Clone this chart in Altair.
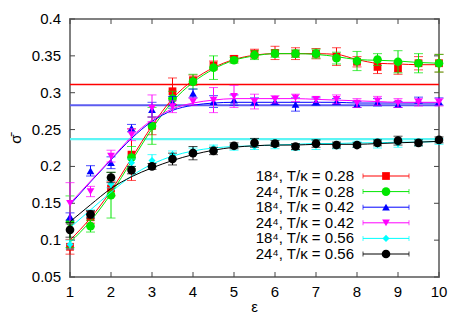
import altair as alt
import pandas as pd

# ---------------- data ----------------
eps = [1, 1.5, 2, 2.5, 3, 3.5, 4, 4.5, 5, 5.5, 6, 6.5, 7, 7.5, 8, 8.5, 9, 9.5, 10]

series = ["18⁴, T/κ = 0.28", "24⁴, T/κ = 0.28", "18⁴, T/κ = 0.42",
          "24⁴, T/κ = 0.42", "18⁴, T/κ = 0.56", "24⁴, T/κ = 0.56"]

sig_18_028 = [0.091, 0.131, 0.170, 0.216, 0.255, 0.302, 0.317, 0.337, 0.346, 0.353, 0.354, 0.353, 0.353, 0.349, 0.342, 0.335, 0.333, 0.340, 0.340]
err_18_028 = [0.010, 0.008, 0.010, 0.035, 0.012, 0.018, 0.007, 0.006, 0.004, 0.006, 0.009, 0.008, 0.007, 0.012, 0.007, 0.009, 0.008, 0.009, 0.012]
fit_18_028 = [0.100, 0.130, 0.167, 0.211, 0.255, 0.292, 0.317, 0.334, 0.345, 0.351, 0.353, 0.353, 0.353, 0.352, 0.345, 0.340, 0.339, 0.338, 0.338]

sig_24_028 = [0.125, 0.119, 0.161, 0.212, 0.255, 0.292, 0.315, 0.334, 0.344, 0.351, 0.353, 0.353, 0.353, 0.347, 0.343, 0.345, 0.342, 0.340, 0.340]
err_24_028 = [0.035, 0.008, 0.031, 0.015, 0.025, 0.010, 0.010, 0.016, 0.004, 0.006, 0.005, 0.005, 0.006, 0.008, 0.013, 0.008, 0.015, 0.013, 0.012]
fit_24_028 = [0.097, 0.126, 0.163, 0.207, 0.251, 0.288, 0.314, 0.332, 0.344, 0.350, 0.353, 0.353, 0.352, 0.349, 0.345, 0.344, 0.343, 0.341, 0.340]

sig_18_042 = [0.132, 0.194, 0.205, 0.252, 0.277, 0.287, 0.299, 0.288, 0.290, 0.288, 0.288, 0.284, 0.288, 0.288, 0.284, 0.287, 0.284, 0.290, 0.288]
err_18_042 = [0.005, 0.007, 0.008, 0.005, 0.010, 0.008, 0.006, 0.008, 0.007, 0.005, 0.004, 0.009, 0.005, 0.004, 0.004, 0.005, 0.004, 0.004, 0.005]
fit_18_042 = [0.148, 0.179, 0.209, 0.238, 0.261, 0.276, 0.283, 0.286, 0.287, 0.287, 0.287, 0.287, 0.287, 0.287, 0.286, 0.286, 0.286, 0.286, 0.286]

sig_24_042 = [0.150, 0.166, 0.214, 0.243, 0.279, 0.281, 0.288, 0.290, 0.295, 0.288, 0.291, 0.293, 0.291, 0.291, 0.286, 0.289, 0.286, 0.287, 0.287]
err_24_042 = [0.028, 0.007, 0.008, 0.008, 0.018, 0.008, 0.005, 0.017, 0.015, 0.010, 0.005, 0.005, 0.004, 0.006, 0.006, 0.006, 0.006, 0.005, 0.005]
fit_24_042 = [0.150, 0.180, 0.210, 0.240, 0.263, 0.278, 0.286, 0.290, 0.292, 0.292, 0.292, 0.292, 0.291, 0.290, 0.289, 0.288, 0.287, 0.287, 0.287]

sig_18_056 = [0.094, 0.136, 0.176, 0.205, 0.208, 0.216, 0.221, 0.225, 0.226, 0.227, 0.228, 0.226, 0.229, 0.228, 0.230, 0.230, 0.231, 0.232, 0.234]
err_18_056 = [0.006, 0.005, 0.005, 0.005, 0.008, 0.005, 0.004, 0.004, 0.004, 0.004, 0.004, 0.004, 0.006, 0.004, 0.004, 0.005, 0.005, 0.004, 0.004]
fit_18_056 = [0.117, 0.141, 0.165, 0.187, 0.203, 0.214, 0.221, 0.225, 0.227, 0.228, 0.229, 0.230, 0.231, 0.231, 0.232, 0.232, 0.233, 0.233, 0.234]

sig_24_056 = [0.114, 0.135, 0.185, 0.195, 0.200, 0.210, 0.218, 0.221, 0.228, 0.232, 0.231, 0.227, 0.231, 0.229, 0.229, 0.232, 0.235, 0.232, 0.236]
err_24_056 = [0.010, 0.005, 0.007, 0.005, 0.004, 0.008, 0.009, 0.005, 0.004, 0.006, 0.004, 0.004, 0.005, 0.004, 0.003, 0.004, 0.006, 0.004, 0.004]
fit_24_056 = [0.125, 0.148, 0.170, 0.186, 0.198, 0.208, 0.216, 0.222, 0.226, 0.228, 0.229, 0.229, 0.230, 0.230, 0.230, 0.231, 0.232, 0.233, 0.234]

sigmas = [sig_18_028, sig_24_028, sig_18_042, sig_24_042, sig_18_056, sig_24_056]
errors = [err_18_028, err_24_028, err_18_042, err_24_042, err_18_056, err_24_056]
fits = [fit_18_028, fit_24_028, fit_18_042, fit_24_042, fit_18_056, fit_24_056]

# horizontal reference levels (red, blue, cyan)
hline_values = [0.311, 0.283, 0.237]

x_ticks = [1, 2, 3, 4, 5, 6, 7, 8, 9, 10]
y_ticks = [0.05, 0.1, 0.15, 0.2, 0.25, 0.3, 0.35, 0.4]
x_title = "ε"
y_title = "σ̄"

# ---------------- styles ----------------
colors = ["#ff0000", "#00e600", "#0000ff", "#ff00ff", "#00ffff", "#000000"]
shapes = ["square", "circle", "triangle-up", "triangle-down", "diamond", "circle"]
sizes = [60, 75, 60, 60, 50, 75]
hline_colors = ["#ff0000", "#5c5cf0", "#5cf5f5"]
hline_widths = [1.5, 2.2, 2.2]
FONT = "Liberation Sans"
FS = 15
W, H = 369, 258

rows = []
for s, sg, er, ft in zip(series, sigmas, errors, fits):
    for e, v, d, f in zip(eps, sg, er, ft):
        rows.append({"series": s, "eps": e, "sigma": v, "err": d, "fit": f})
df = pd.DataFrame(rows)

xs = alt.Scale(domain=[1, 10], nice=False, zero=False)
ys = alt.Scale(domain=[0.05, 0.4], nice=False, zero=False)

layers = []

# inward ticks on all four sides
tick_col = "#444444"
ydf = pd.DataFrame({"v": y_ticks})
xdf = pd.DataFrame({"v": x_ticks})
layers.append(alt.Chart(ydf).mark_rule(color=tick_col, strokeWidth=1)
              .encode(y=alt.Y("v:Q", scale=ys, axis=None), x=alt.value(0), x2=alt.value(5)))
layers.append(alt.Chart(xdf).mark_rule(color=tick_col, strokeWidth=1)
              .encode(x=alt.X("v:Q", scale=xs, axis=None), y=alt.value(H - 5), y2=alt.value(H)))
layers.append(alt.Chart(ydf).mark_rule(color=tick_col, strokeWidth=1)
              .encode(y=alt.Y("v:Q", scale=ys, axis=None), x=alt.value(W - 5), x2=alt.value(W)))
layers.append(alt.Chart(xdf).mark_rule(color=tick_col, strokeWidth=1)
              .encode(x=alt.X("v:Q", scale=xs, axis=None), y=alt.value(0), y2=alt.value(5)))

# tick labels and axis titles (as text marks placed by the scales)
layers.append(alt.Chart(ydf).mark_text(align="right", baseline="middle", fontSize=FS, color="#000000")
              .encode(y=alt.Y("v:Q", scale=ys, axis=None), x=alt.value(-9),
                      text=alt.Text("v:Q", format=".2~f")))
layers.append(alt.Chart(xdf).mark_text(align="center", baseline="middle", fontSize=FS, color="#000000")
              .encode(x=alt.X("v:Q", scale=xs, axis=None), y=alt.value(H + 15),
                      text=alt.Text("v:Q", format="d")))
layers.append(alt.Chart(pd.DataFrame({"t": [x_title]}))
              .mark_text(align="center", baseline="middle", fontSize=FS, color="#000000")
              .encode(x=alt.value(W / 2), y=alt.value(H + 30), text="t:N"))
layers.append(alt.Chart(pd.DataFrame({"t": [y_title]}))
              .mark_text(align="center", baseline="middle", fontSize=FS, angle=270, color="#000000")
              .encode(x=alt.value(-54), y=alt.value(120), text="t:N"))

# horizontal levels
hl_df = pd.DataFrame({"level": hline_values, "k": [0, 1, 2]})
for k in range(3):
    layers.append(
        alt.Chart(hl_df).transform_filter(alt.datum.k == k)
        .mark_rule(color=hline_colors[k], strokeWidth=hline_widths[k])
        .encode(y=alt.Y("level:Q", scale=ys, axis=None),
                x=alt.value(0), x2=alt.value(W))
    )

for i, s in enumerate(series):
    base = alt.Chart(df).transform_filter(alt.datum.series == s).transform_calculate(
        lo="datum.sigma - datum.err", hi="datum.sigma + datum.err")
    X = alt.X("eps:Q", scale=xs, axis=None)
    layers.append(base.mark_line(color=colors[i], strokeWidth=1, interpolate="monotone")
                  .encode(x=X, y=alt.Y("fit:Q", scale=ys, axis=None)))
    layers.append(base.mark_rule(color=colors[i], strokeWidth=1)
                  .encode(x=X, y=alt.Y("lo:Q", scale=ys, axis=None), y2="hi:Q"))
    layers.append(base.mark_tick(color=colors[i], orient="horizontal", size=9, thickness=1)
                  .encode(x=X, y=alt.Y("lo:Q", scale=ys, axis=None)))
    layers.append(base.mark_tick(color=colors[i], orient="horizontal", size=9, thickness=1)
                  .encode(x=X, y=alt.Y("hi:Q", scale=ys, axis=None)))
    layers.append(base.mark_point(color=colors[i], filled=True, opacity=1, shape=shapes[i], size=sizes[i])
                  .encode(x=X, y=alt.Y("sigma:Q", scale=ys, axis=None)))

# ---------------- legend (drawn manually: label left, symbol right) ----------------
leg_df = pd.DataFrame({"series": series, "k": list(range(len(series)))})
LEG_TOP, LEG_STEP = 157, 15.6
for i, s in enumerate(series):
    lb = alt.Chart(leg_df).transform_filter(alt.datum.k == i)
    yv = alt.value(LEG_TOP + LEG_STEP * i)
    layers.append(lb.mark_text(align="right", baseline="middle", fontSize=FS, color="#000000")
                  .encode(y=yv, x=alt.value(284), text="series:N"))
    layers.append(lb.mark_rule(strokeWidth=1, color=colors[i])
                  .encode(y=yv, x=alt.value(293), x2=alt.value(339)))
    layers.append(lb.mark_tick(orient="vertical", size=5, thickness=1, color=colors[i])
                  .encode(y=yv, x=alt.value(293)))
    layers.append(lb.mark_tick(orient="vertical", size=5, thickness=1, color=colors[i])
                  .encode(y=yv, x=alt.value(339)))
    layers.append(lb.mark_point(filled=True, opacity=1, size=sizes[i], shape=shapes[i], color=colors[i])
                  .encode(y=yv, x=alt.value(316)))

chart = alt.layer(*layers).properties(
    width=W, height=H,
    padding={"left": 62, "top": 11, "right": 20, "bottom": 40},
    autosize=alt.AutoSizeParams(type="none"),
).configure(font=FONT).configure_view(stroke="#808080", strokeWidth=2)

chart.save("out.html", embed_options={"renderer": "svg", "actions": False})
